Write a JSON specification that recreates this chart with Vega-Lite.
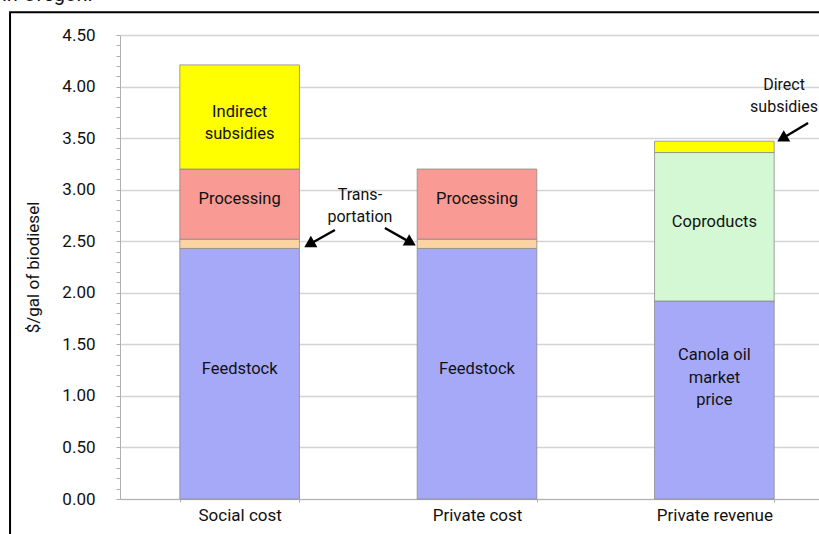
{
  "$schema": "https://vega.github.io/schema/vega-lite/v6.json",
  "autosize": {"type": "none"},
  "width": 714,
  "height": 464,
  "padding": {"left": 120, "top": 35, "right": 0, "bottom": 35},
  "background": "white",
  "config": {
    "font": "Roboto, Liberation Sans, sans-serif",
    "view": {"stroke": null}
  },
  "datasets": {
    "bars": [
      {"cat": "Social cost", "part": "Feedstock", "ord": 1, "value": 2.43, "label": "Feedstock"},
      {"cat": "Social cost", "part": "Transportation", "ord": 2, "value": 0.09, "label": ""},
      {"cat": "Social cost", "part": "Processing", "ord": 3, "value": 0.68, "label": "Processing"},
      {"cat": "Social cost", "part": "Indirect subsidies", "ord": 4, "value": 1.01, "label": "Indirect\nsubsidies"},
      {"cat": "Private cost", "part": "Feedstock", "ord": 1, "value": 2.43, "label": "Feedstock"},
      {"cat": "Private cost", "part": "Transportation", "ord": 2, "value": 0.09, "label": ""},
      {"cat": "Private cost", "part": "Processing", "ord": 3, "value": 0.68, "label": "Processing"},
      {"cat": "Private revenue", "part": "Canola oil market price", "ord": 1, "value": 1.92, "label": "Canola oil\nmarket\nprice"},
      {"cat": "Private revenue", "part": "Coproducts", "ord": 2, "value": 1.44, "label": "Coproducts"},
      {"cat": "Private revenue", "part": "Direct subsidies", "ord": 3, "value": 0.11, "label": ""}
    ],
    "notes": [
      {"px": 1.008, "py": 2.949, "text": "Trans-\nportation"},
      {"px": 2.79, "py": 4.016, "text": "Direct\nsubsidies"}
    ],
    "arrows": [
      {"x1": 0.903, "y1": 2.609, "x2": 0.8, "y2": 2.475},
      {"x1": 1.113, "y1": 2.628, "x2": 1.216, "y2": 2.494},
      {"x1": 2.891, "y1": 3.647, "x2": 2.786, "y2": 3.502}
    ],
    "headsLeft": [
      {"hx": 0.795, "hy": 2.47},
      {"hx": 2.782, "hy": 3.495}
    ],
    "headsRight": [
      {"hx": 1.222, "hy": 2.486}
    ],
    "caption": [
      {"px": -0.496, "py": 4.826, "text": "in Oregon."}
    ]
  },
  "layer": [
    {
      "data": {"name": "bars"},
      "layer": [
        {
          "mark": {"type": "bar", "stroke": "#8a8a8a", "strokeWidth": 0.8},
          "encoding": {
            "x": {
              "field": "cat", "type": "nominal", "sort": ["Social cost", "Private cost", "Private revenue"],
              "scale": {"paddingInner": 0.496, "paddingOuter": 0.252},
              "axis": {
                "title": null, "labelAngle": 0, "labelFontSize": 17, "labelColor": "#111",
                "domainColor": "#b0b0b0", "tickColor": "#b0b0b0", "tickBand": "extent", "tickSize": 3,
                "labelPadding": 5
              }
            },
            "y": {
              "field": "value", "type": "quantitative", "stack": "zero",
              "scale": {"domain": [0, 4.5], "nice": false},
              "axis": {
                "title": "$/gal of biodiesel", "titleFontSize": 17, "titleFontWeight": "normal", "titleColor": "#111",
                "titlePadding": 19,
                "values": [0,0.1,0.2,0.3,0.4,0.5,0.6,0.7,0.8,0.9,1,1.1,1.2,1.3,1.4,1.5,1.6,1.7,1.8,1.9,2,2.1,2.2,2.3,2.4,2.5,2.6,2.7,2.8,2.9,3,3.1,3.2,3.3,3.4,3.5,3.6,3.7,3.8,3.9,4,4.1,4.2,4.3,4.4,4.5],
                "labelExpr": "abs(datum.value*2 - round(datum.value*2)) < 0.0001 ? format(datum.value, '.2f') : ''",
                "labelFontSize": 17, "labelColor": "#111", "labelPadding": 21,
                "labelOverlap": false,
                "grid": true,
                "gridColor": "#d4d4d4",
                "gridWidth": 1.5,
                "gridOpacity": {"condition": {"test": "abs(datum.value*2 - round(datum.value*2)) < 0.0001", "value": 1}, "value": 0},
                "tickColor": "#b0b0b0", "tickSize": 4,
                "domainColor": "#b0b0b0"
              }
            },
            "color": {
              "field": "part", "type": "nominal", "legend": null,
              "scale": {
                "domain": ["Feedstock", "Transportation", "Processing", "Indirect subsidies", "Canola oil market price", "Coproducts", "Direct subsidies"],
                "range": ["#a6a9f8", "#fcd4a4", "#f99a95", "#ffff00", "#a6a9f8", "#d3f8d3", "#ffff00"]
              }
            },
            "order": {"field": "ord", "type": "quantitative"}
          }
        },
        {
          "transform": [
            {"stack": "value", "groupby": ["cat"], "sort": [{"field": "ord"}], "as": ["v0", "v1"]},
            {"calculate": "(datum.v0 + datum.v1) / 2", "as": "mid"},
            {"filter": "datum.part != 'Canola oil market price'"}
          ],
          "mark": {"type": "text", "fontSize": 16.5, "color": "#111", "lineBreak": "\n", "lineHeight": 22, "baseline": "middle", "dy": -5},
          "encoding": {
            "x": {"field": "cat", "type": "nominal", "sort": ["Social cost", "Private cost", "Private revenue"], "axis": null},
            "y": {"field": "mid", "type": "quantitative", "axis": null},
            "text": {"field": "label"}
          }
        },
        {
          "transform": [
            {"stack": "value", "groupby": ["cat"], "sort": [{"field": "ord"}], "as": ["v0", "v1"]},
            {"calculate": "(datum.v0 + datum.v1) / 2", "as": "mid"},
            {"filter": "datum.part == 'Canola oil market price'"}
          ],
          "mark": {"type": "text", "fontSize": 16.5, "color": "#111", "lineBreak": "\n", "lineHeight": 22.5, "baseline": "middle", "dy": -45},
          "encoding": {
            "x": {"field": "cat", "type": "nominal", "sort": ["Social cost", "Private cost", "Private revenue"], "axis": null},
            "y": {"field": "mid", "type": "quantitative", "axis": null},
            "text": {"field": "label"}
          }
        }
      ],
      "resolve": {"axis": {"x": "independent", "y": "independent"}}
    },
    {
      "layer": [
        {
          "data": {"name": "arrows"},
          "mark": {"type": "rule", "color": "black", "strokeWidth": 2.4},
          "encoding": {
            "x": {"field": "x1", "type": "quantitative", "scale": {"domain": [0, 3], "nice": false, "zero": false}, "axis": null},
            "y": {"field": "y1", "type": "quantitative", "axis": null},
            "x2": {"field": "x2"},
            "y2": {"field": "y2"}
          }
        },
        {
          "data": {"name": "headsLeft"},
          "mark": {"type": "point", "shape": "triangle-up", "filled": true, "color": "black", "size": 170, "angle": 240, "opacity": 1},
          "encoding": {
            "x": {"field": "hx", "type": "quantitative", "axis": null},
            "y": {"field": "hy", "type": "quantitative", "axis": null}
          }
        },
        {
          "data": {"name": "headsRight"},
          "mark": {"type": "point", "shape": "triangle-up", "filled": true, "color": "black", "size": 170, "angle": 120, "opacity": 1},
          "encoding": {
            "x": {"field": "hx", "type": "quantitative", "axis": null},
            "y": {"field": "hy", "type": "quantitative", "axis": null}
          }
        },
        {
          "data": {"name": "notes"},
          "mark": {"type": "text", "fontSize": 16, "color": "#111", "lineBreak": "\n", "lineHeight": 22, "baseline": "middle", "align": "center"},
          "encoding": {
            "x": {"field": "px", "type": "quantitative", "axis": null},
            "y": {"field": "py", "type": "quantitative", "axis": null},
            "text": {"field": "text"}
          }
        },
        {
          "data": {"name": "caption"},
          "mark": {"type": "text", "fontSize": 20, "color": "#111", "baseline": "alphabetic", "align": "left"},
          "encoding": {
            "x": {"field": "px", "type": "quantitative", "axis": null},
            "y": {"field": "py", "type": "quantitative", "axis": null},
            "text": {"field": "text"}
          }
        },
        {
          "data": {"values": [{}]},
          "mark": {"type": "rect", "filled": false, "stroke": "black", "strokeWidth": 2, "fill": null},
          "encoding": {
            "x": {"datum": -0.462, "type": "quantitative", "axis": null},
            "x2": {"datum": 3.6},
            "y": {"datum": 4.72, "type": "quantitative", "axis": null},
            "y2": {"datum": -1.0}
          }
        }
      ],
      "resolve": {"axis": {"x": "independent", "y": "independent"}}
    }
  ],
  "resolve": {"scale": {"x": "independent"}, "axis": {"x": "independent", "y": "independent"}}
}
